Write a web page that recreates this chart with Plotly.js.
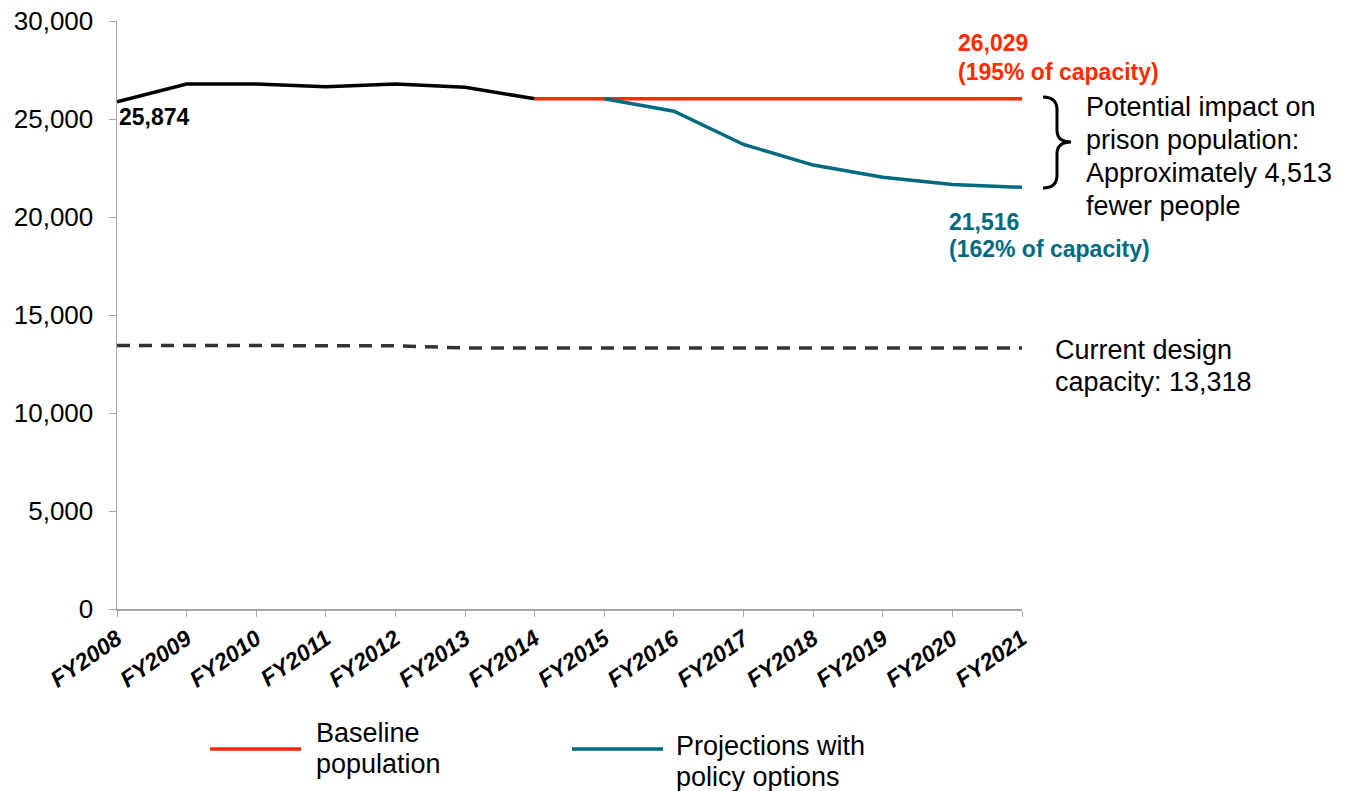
<!DOCTYPE html>
<html><head><meta charset="utf-8">
<script src="https://cdn.plot.ly/plotly-3.0.1.min.js"></script>
<style>html,body{margin:0;padding:0;background:#fff}#c{width:1354px;height:791px}</style>
</head><body><div id="c"></div>
<script>
const years = ["FY2008","FY2009","FY2010","FY2011","FY2012","FY2013","FY2014","FY2015","FY2016","FY2017","FY2018","FY2019","FY2020","FY2021"];
const historicalYears = years.slice(0,7);
const historical = [25874, 26780, 26780, 26650, 26780, 26620, 26029];
const baselineYears = years.slice(6);
const baseline = [26029, 26029, 26029, 26029, 26029, 26029, 26029, 26029];
const policyYears = years.slice(7);
const policy = [26029, 25400, 23700, 22650, 22030, 21660, 21516];
const capacity = [13450, 13450, 13450, 13450, 13430, 13318, 13318, 13318, 13318, 13318, 13318, 13318, 13318, 13318];

const RED = "#FF2A00", TEAL = "#006A80";
const L=117, R=1022, T=21, B=609;
const px = x => (x-L)/(R-L);
const py = y => (B-y)/(B-T);

const traces = [
  {x: years, y: capacity, mode:"lines", line:{color:"#333333", width:3.5, dash:"13px,9px"}, showlegend:false, hoverinfo:"skip"},
  {x: historicalYears, y: historical, mode:"lines", line:{color:"#000000", width:3.5}, showlegend:false},
  {x: baselineYears, y: baseline, mode:"lines", line:{color:RED, width:3.5}, name:"Baseline population", showlegend:false},
  {x: policyYears, y: policy, mode:"lines", line:{color:TEAL, width:3.5}, name:"Projections with policy options", showlegend:false}
];

const F = "Liberation Sans, Arial, sans-serif";
function ann(text, x, y, size, color, bold, xanchor){
  return {text: bold ? "<b>"+text+"</b>" : text, x: px(x), y: py(y), xref:"paper", yref:"paper",
    xanchor: xanchor||"left", yanchor:"middle", showarrow:false, font:{family:F, size:size, color:color}};
}
const annotations = [
  ann("25,874", 117, 117, 23, "#000", true),
  ann("26,029", 956, 43, 23, RED, true),
  ann("(195% of capacity)", 956, 72, 23, RED, true),
  ann("21,516", 947, 222, 23, TEAL, true),
  ann("(162% of capacity)", 947, 249, 23, TEAL, true),
  ann("Potential impact on", 1084, 107, 27, "#000", false),
  ann("prison population:", 1084, 140, 27, "#000", false),
  ann("Approximately 4,513", 1084, 173, 27, "#000", false),
  ann("fewer people", 1084, 206, 27, "#000", false),
  ann("Current design", 1053, 350, 27, "#000", false),
  ann("capacity: 13,318", 1053, 382, 27, "#000", false),
  ann("Baseline", 314, 733, 27, "#000", false),
  ann("population", 314, 764, 27, "#000", false),
  ann("Projections with", 674, 746, 27, "#000", false),
  ann("policy options", 674, 777, 27, "#000", false)
];

function P(x,y){ return px(x).toFixed(5)+","+py(y).toFixed(5); }
const brace = "M"+P(1043,97)+" Q"+P(1057,97)+" "+P(1057,110)+" L"+P(1057,130)+" Q"+P(1057,142)+" "+P(1071,142)+
  " Q"+P(1057,142)+" "+P(1057,154)+" L"+P(1057,175)+" Q"+P(1057,188)+" "+P(1043,188);
const shapes = [
  {type:"path", path: brace, xref:"paper", yref:"paper", line:{color:"#000", width:3}},
  {type:"line", xref:"paper", yref:"paper", x0:px(210), x1:px(301), y0:py(749), y1:py(749), line:{color:RED, width:3.5}},
  {type:"line", xref:"paper", yref:"paper", x0:px(572), x1:px(663), y0:py(749), y1:py(749), line:{color:TEAL, width:3.5}}
];

const layout = {
  width:1354, height:791,
  margin:{l:L, r:1354-R, t:T, b:791-B, pad:0},
  paper_bgcolor:"#fff", plot_bgcolor:"#fff",
  showlegend:false,
  xaxis:{type:"category", range:[0,13], showgrid:false, zeroline:false, showline:true, linecolor:"#a6a6a6", linewidth:1.5,
    ticks:"outside", ticklen:6, tickcolor:"#a6a6a6", tickangle:-35,
    tickfont:{family:F, size:23, color:"#000", weight:"bold", style:"italic"}},
  yaxis:{range:[0,30000], dtick:5000, tickformat:",", showgrid:false, zeroline:false, showline:true, linecolor:"#a6a6a6", linewidth:1.5,
    ticks:"outside", ticklen:7, tickcolor:"#a6a6a6", ticklabelstandoff:10, tickfont:{family:F, size:26, color:"#000"}},
  annotations: annotations,
  shapes: shapes
};
Plotly.newPlot("c", traces, layout, {displayModeBar:false, staticPlot:true});
</script></body></html>
